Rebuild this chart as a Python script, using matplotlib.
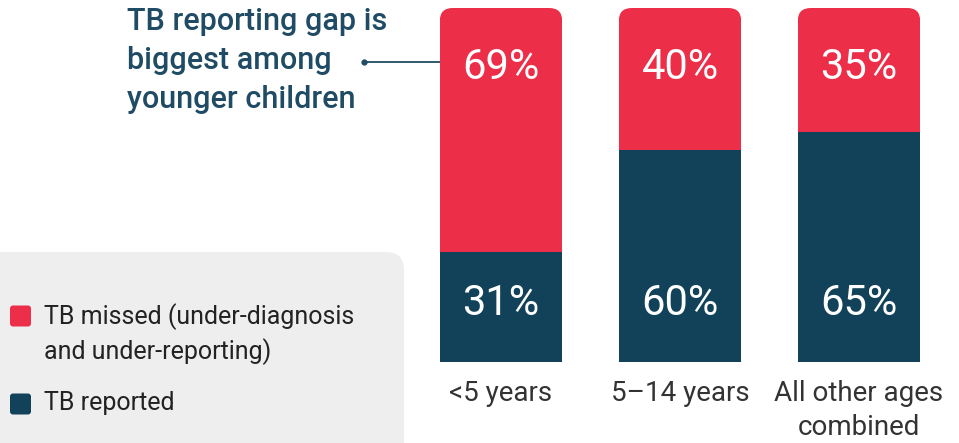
import matplotlib
matplotlib.use("Agg")
import matplotlib.pyplot as plt
from matplotlib.patches import FancyBboxPatch
from matplotlib import rcParams

rcParams['font.family'] = ['Roboto', 'DejaVu Sans']

categories = ["<5 years", "5\u201314 years", "All other ages\ncombined"]
reported = [31, 60, 65]
missed = [69, 40, 35]
series_names = ["TB missed (under-diagnosis\nand under-reporting)", "TB reported"]
note = "TB reporting gap is\nbiggest among\nyounger children"

RED = "#ed2e48"
NAVY = "#11425a"
NOTE = "#1f4c64"

W, H = 959, 443
fig = plt.figure(figsize=(W / 100, H / 100), dpi=100)

# background axes in pixel units for the legend panel and the note
bg = fig.add_axes([0, 0, 1, 1])
bg.set_xlim(0, W)
bg.set_ylim(H, 0)
bg.axis("off")

panel = FancyBboxPatch((-30, 252), 434, 240, boxstyle="round,pad=0,rounding_size=18",
                       fc="#eeeeee", ec="none")
bg.add_patch(panel)

# bar axes
ax = fig.add_axes([411.5 / W, (H - 362) / H, 537 / W, 354 / H])
ax.patch.set_alpha(0)
ax.set_xlim(-0.5, 2.5)
ax.set_ylim(0, 100)
ax.axis("off")

x = list(range(len(categories)))
width = 0.684
b1 = ax.bar(x, reported, width, color=NAVY, linewidth=0)
b2 = ax.bar(x, missed, width, bottom=reported, color=RED, linewidth=0)

# round off the top corners
r_px = 13
rx = r_px / 179
aspect = (100 / 354) / (1 / 179)
for i in x:
    clip = FancyBboxPatch((i - width / 2, -30), width, 130,
                          boxstyle="round,pad=0,rounding_size=%f" % rx,
                          mutation_aspect=aspect, transform=ax.transData,
                          fc="none", ec="none")
    ax.add_patch(clip)
    b1[i].set_clip_path(clip)
    b2[i].set_clip_path(clip)

for i in x:
    ax.text(i, 83.2, "%d%%" % missed[i], color="white", fontsize=30,
            ha="center", va="center")
    ax.text(i, 16.6, "%d%%" % reported[i], color="white", fontsize=30,
            ha="center", va="center")
    ax.text(i, -5.0, categories[i], color="#333333", fontsize=20,
            ha="center", va="top", linespacing=1.36)

# note with connector
bg.text(127, 7, note, color=NOTE, fontsize=22, fontweight="medium",
        ha="left", va="top", linespacing=1.43)
bg.plot([364, 441], [62, 62], color=NOTE, lw=1.3)
bg.plot([364], [62], "o", color=NOTE, ms=3.5)

# legend
legend_rows = [(316, RED, series_names[0]), (404, NAVY, series_names[1])]
for yc, col, name in legend_rows:
    bg.add_patch(FancyBboxPatch((10, yc - 10.5), 21, 21,
                                boxstyle="round,pad=0,rounding_size=3",
                                fc=col, ec="none"))
    bg.text(44, yc - 13, name, color="#222222", fontsize=18,
            ha="left", va="top", linespacing=1.4)

fig.savefig("out.png", dpi=100)
